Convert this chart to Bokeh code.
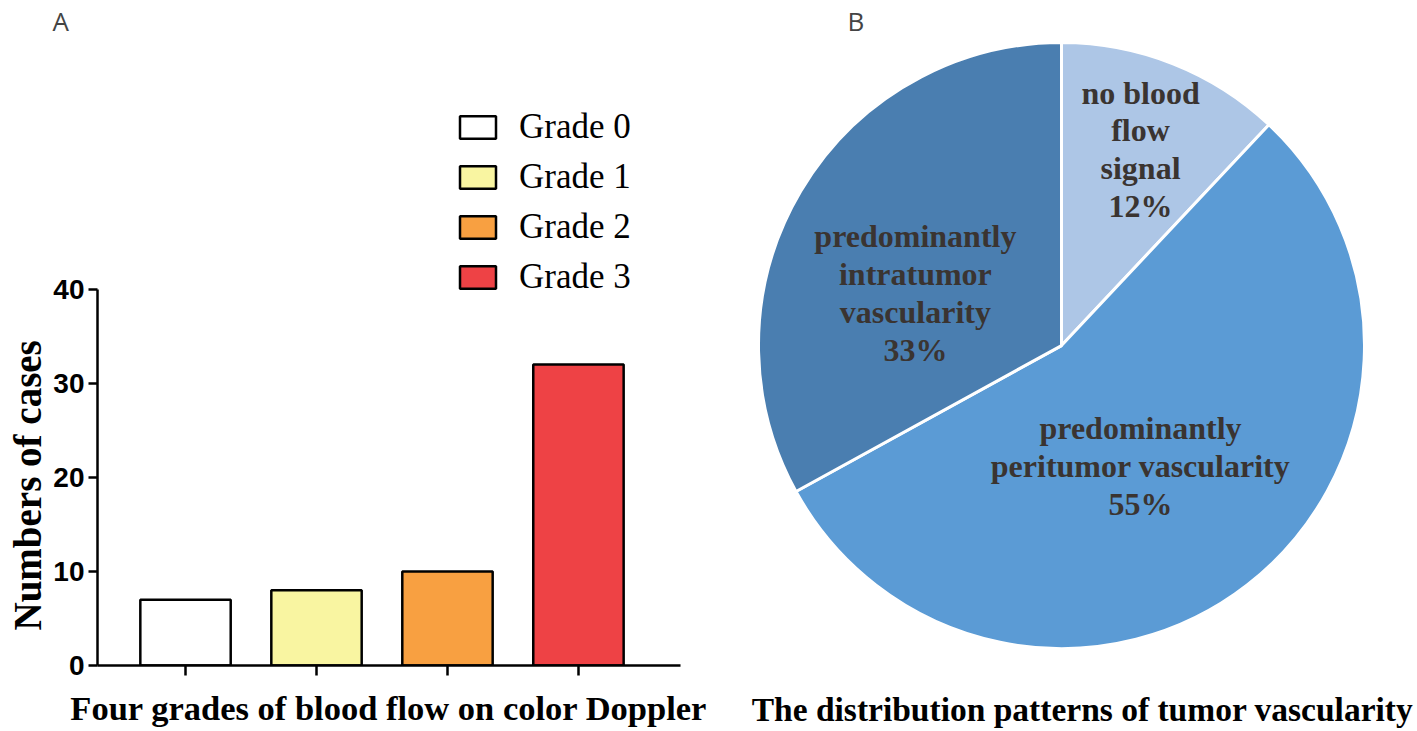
import numpy as np
from bokeh.plotting import figure
from bokeh.models import (Range1d, FixedTicker, Legend, LegendItem, Title,
                          ColumnDataSource)
from bokeh.layouts import row
from bokeh.embed import file_html
from bokeh.resources import INLINE
from bokeh.core.properties import value

# ---------------- data ----------------
grades = ["Grade 0", "Grade 1", "Grade 2", "Grade 3"]
cases = [7, 8, 10, 32]
grade_colors = ["#ffffff", "#f9f5a1", "#f8a041", "#ee4245"]
y_ticks = [0, 10, 20, 30, 40]
bar_xlabel = "Four grades of blood flow on color Doppler"
bar_ylabel = "Numbers of cases"

patterns = ["no blood\nflow\nsignal",
            "predominantly\nperitumor vascularity",
            "predominantly\nintratumor\nvascularity"]
shares = [12, 55, 33]
pattern_colors = ["#adc6e6", "#5b9bd5", "#4a7eb0"]
pie_title = "The distribution patterns of tumor vascularity"

# ---------------- layout constants (pixels) ----------------
H = 730
FT, FB = 32, 665            # frame top / bottom shared by both panels
W1, W2 = 748, 668

# ---------------- bar chart (A) ----------------
xs = list(range(1, len(grades) + 1))
src = ColumnDataSource(dict(x=xs, top=cases, color=grade_colors, grade=grades))

px_per_case = 9.5
p1 = figure(width=W1, height=H, output_backend="svg", toolbar_location=None,
            x_range=Range1d(0.328, 4.779),
            y_range=Range1d(0, (FB - FT) / px_per_case),
            min_border_left=97, min_border_right=68, min_border_top=FT,
            min_border_bottom=H - FB)
p1.grid.visible = False
p1.outline_line_color = None

r = p1.vbar(x="x", top="top", bottom=0, width=0.69, fill_color="color",
            line_color="black", line_width=2.5, source=src)

items = [LegendItem(label=g, renderers=[r], index=i) for i, g in enumerate(grades)]
legend = Legend(items=items, location=(358, 368), glyph_width=45, glyph_height=28,
                label_height=28, spacing=10, padding=0, margin=0, label_standoff=19,
                border_line_color=None, background_fill_alpha=0,
                label_text_font="Liberation Serif", label_text_font_size="35px",
                label_text_color="black")
p1.add_layout(legend)

ya = p1.yaxis[0]
ya.bounds = (0, 40)
ya.ticker = FixedTicker(ticks=y_ticks, minor_ticks=[])
ya.axis_line_width = 2.5
ya.major_tick_line_width = 2.5
ya.major_tick_out = 9
ya.major_tick_in = 0
ya.minor_tick_line_color = None
ya.major_label_text_font = "Liberation Sans"
ya.major_label_text_font_style = "bold"
ya.major_label_text_font_size = "28px"
ya.major_label_text_color = "black"
ya.major_label_standoff = 4

xa = p1.xaxis[0]
xa.ticker = FixedTicker(ticks=xs, minor_ticks=[])
xa.major_label_overrides = {x: "" for x in xs}
xa.major_label_standoff = 0
xa.axis_line_width = 2.5
xa.major_tick_line_width = 2.5
xa.major_tick_out = 10
xa.major_tick_in = 0
xa.minor_tick_line_color = None
xa.axis_label = bar_xlabel
xa.axis_label_text_font = "Liberation Serif"
xa.axis_label_text_font_style = "bold"
xa.axis_label_text_font_size = "34.5px"
xa.axis_label_text_color = "black"
xa.axis_label_standoff = 13

p1.add_layout(Title(text=bar_ylabel, align="left", offset=35, standoff=4,
                    text_font="Liberation Serif", text_font_style="bold",
                    text_font_size="39px", text_color="black"), "left")

p1.title.text = "A"
p1.title.align = "left"
p1.title.offset = -45
p1.title.standoff = 0
p1.title.text_font = "Open Sans"
p1.title.text_font_style = "normal"
p1.title.text_font_size = "26px"

# ---------------- pie chart (B) ----------------
PX = 303.0                           # pixels per unit radius
cx_px, cy_px = 313.0, 342.0 - FT     # pie centre inside the frame
FH = FB - FT
p2 = figure(width=W2, height=H, output_backend="svg", toolbar_location=None,
            x_range=Range1d(-cx_px / PX, (W2 - cx_px) / PX),
            y_range=Range1d(-(FH - cy_px) / PX, cy_px / PX),
            y_axis_location=None,
            min_border_left=0, min_border_right=0, min_border_top=FT,
            min_border_bottom=H - FB)
p2.grid.visible = False
p2.outline_line_color = None

frac = np.array(shares, dtype=float) / sum(shares)
cum = np.cumsum(frac)
starts = np.pi / 2 - 2 * np.pi * np.concatenate([[0.0], cum[:-1]])
ends = np.pi / 2 - 2 * np.pi * cum
p2.wedge(x=0, y=0, radius=1, start_angle=starts, end_angle=ends, direction="clock",
         fill_color=pattern_colors, line_color="white", line_width=3)

label_r = np.array([0.704, 0.479, 0.513])
label_nudge = np.radians([-0.15, -4.8, 10.65])
mid = (starts + ends) / 2 + label_nudge
lx = label_r * np.cos(mid)
ly = label_r * np.sin(mid)
texts = [f"{n}\n{s}%" for n, s in zip(patterns, shares)]
p2.text(x=lx, y=ly, text=texts, text_align="center", text_baseline="middle",
        text_font=value("Liberation Serif"), text_font_style="bold",
        text_font_size="32px", text_color="#3a3431", text_line_height=1.05)

p2.title.text = "B"
p2.title.align = "left"
p2.title.offset = 99
p2.title.standoff = 0
p2.title.text_font = "Open Sans"
p2.title.text_font_style = "normal"
p2.title.text_font_size = "26px"

xb = p2.xaxis[0]
xb.ticker = FixedTicker(ticks=[], minor_ticks=[])
xb.axis_line_color = None
xb.major_tick_line_color = None
xb.minor_tick_line_color = None
xb.major_label_standoff = 0
xb.axis_label = pie_title
xb.axis_label_standoff = 25
xb.axis_label_text_font = "Liberation Serif"
xb.axis_label_text_font_style = "bold"
xb.axis_label_text_font_size = "33.5px"
xb.axis_label_text_color = "black"

layout = row(p1, p2)
open("out.html", "w").write(file_html(layout, INLINE))
